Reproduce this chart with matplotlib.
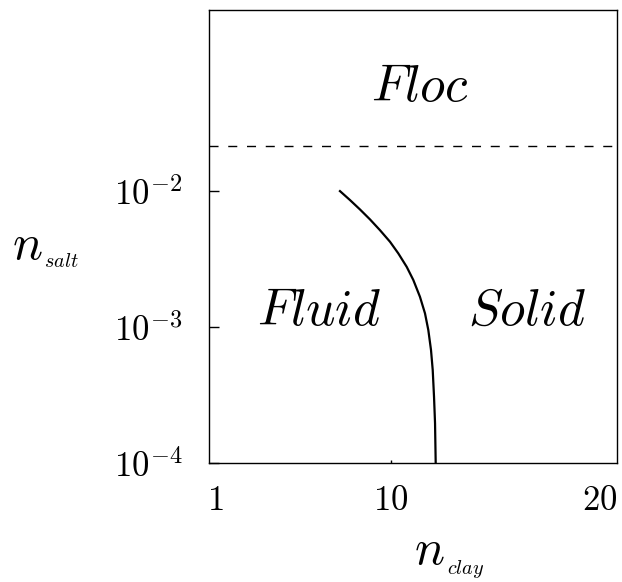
import numpy as np
import matplotlib
matplotlib.use("Agg")
from matplotlib import pyplot as plt

plt.rcParams['mathtext.fontset'] = 'cm'
plt.rcParams['font.family'] = 'serif'
plt.rcParams['font.serif'] = ['cmr10', 'DejaVu Serif']

# boundary between fluid and solid (x in axis units, y = n_salt)
boundary_x = [0.321, 0.3456, 0.370, 0.3946, 0.419, 0.4436, 0.464, 0.4846, 0.5007,
              0.517, 0.5294, 0.5375, 0.5441, 0.5483, 0.5515, 0.554, 0.5556]
boundary_y = [1.00e-2, 8.59e-3, 7.33e-3, 6.19e-3, 5.16e-3, 4.24e-3, 3.48e-3, 2.77e-3,
              2.22e-3, 1.67e-3, 1.26e-3, 9.51e-4, 6.78e-4, 4.83e-4, 3.07e-4, 1.96e-4,
              1.0e-4]

floc_level = 0.0214

xtick_pos = [0.0147, 0.445, 0.958]
xtick_labels = [r'$1$', r'$10$', r'$20$']
ytick_pos = [1e-4, 1e-3, 1e-2]
ytick_labels = [r'$10^{-4}$', r'$10^{-3}$', r'$10^{-2}$']

regions = ['Floc', 'Fluid', 'Solid']
region_xy = [(0.517, 0.80), (0.27, 0.305), (0.779, 0.305)]

fig = plt.figure(figsize=(6.22, 5.82), dpi=100)
ax = fig.add_axes([0.336, 0.2045, 0.656, 0.7785])

ax.plot(boundary_x, boundary_y, color='black', lw=1.6)
ax.axhline(floc_level, color='black', lw=1.0, dashes=(6.5, 7))

ax.set_yscale('log')
ax.set_xlim(0, 1)
ax.set_ylim(1e-4, 10 ** -0.667)

ax.set_xticks(xtick_pos)
ax.set_xticklabels(xtick_labels, fontsize=25)
ax.set_yticks(ytick_pos)
ax.set_yticklabels(ytick_labels, fontsize=25)
ax.minorticks_off()
ax.tick_params(axis='y', direction='in', length=7, width=1, pad=19)
ax.tick_params(axis='x', direction='in', length=2, width=1, pad=16)
xt = ax.xaxis.get_major_ticks()
xt[0].tick1line.set_visible(False)
xt[2].tick1line.set_visible(False)

for sp in ax.spines.values():
    sp.set_linewidth(1.0)

for name, (tx, ty) in zip(regions, region_xy):
    ax.text(tx, ty, '$' + name + '$', transform=ax.transAxes, fontsize=37,
            ha='center', va='baseline')

# axis labels: big n with a small subscript
W, H = 622, 582
fig.text(27.5 / W, 1 - 259 / H, r'$n$', fontsize=36, ha='center', va='baseline')
fig.text(44 / W, 1 - 267 / H, r'$salt$', fontsize=14.5, ha='left', va='baseline')
fig.text(429.5 / W, 1 - 564 / H, r'$n$', fontsize=36, ha='center', va='baseline')
fig.text(447 / W, 1 - 574 / H, r'$clay$', fontsize=14.5, ha='left', va='baseline')

fig.savefig('out.png', dpi=100)
